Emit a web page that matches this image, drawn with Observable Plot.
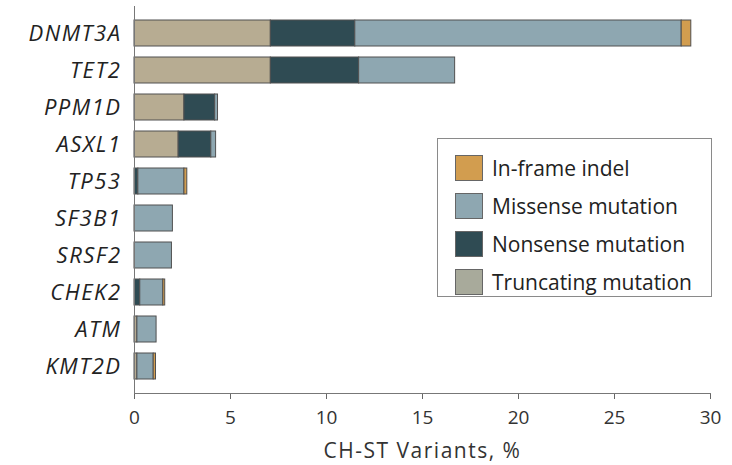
<!DOCTYPE html>
<html>
<head>
<meta charset="utf-8">
<script src="https://cdn.jsdelivr.net/npm/d3@7"></script>
<script src="https://cdn.jsdelivr.net/npm/@observablehq/plot@0.6"></script>
<style>
  html, body { margin: 0; padding: 0; background: #fff; }
  #wrap { position: relative; width: 732px; height: 465px; font-family: "Open Sans", sans-serif; }
  #legend { position: absolute; left: 437px; top: 138px; width: 275px; height: 159px; border: 1px solid #8a8a8a; box-sizing: border-box; background: #fff; }
  .row { position: absolute; left: 17px; height: 28px; display: flex; align-items: center; font-size: 21px; color: #222; white-space: nowrap; }
  .sw { width: 28px; height: 26px; box-sizing: border-box; border: 1px solid #666; margin-right: 9px; }
  .gene text { letter-spacing: 1.5px; }
</style>
</head>
<body>
<div id="wrap"></div>
<script>
const genes = ["DNMT3A", "TET2", "PPM1D", "ASXL1", "TP53", "SF3B1", "SRSF2", "CHEK2", "ATM", "KMT2D"];
const truncating = [7.1, 7.1, 2.6, 2.3, 0, 0, 0, 0, 0.15, 0.15];
const nonsense   = [4.4, 4.6, 1.6, 1.7, 0.2, 0, 0, 0.3, 0, 0];
const missense   = [17.0, 5.0, 0.15, 0.25, 2.4, 2.0, 1.95, 1.2, 1.0, 0.85];
const indel      = [0.5, 0, 0, 0, 0.15, 0, 0, 0.1, 0, 0.12];
const types = ["Truncating mutation", "Nonsense mutation", "Missense mutation", "In-frame indel"];
const colors = ["#b7ac92", "#2f4b53", "#8ea7b1", "#d29d4f"];
const legendOrder = ["In-frame indel", "Missense mutation", "Nonsense mutation", "Truncating mutation"];
const legendColors = ["#d29d4f", "#8ea7b1", "#2f4b53", "#a8aa9b"];
const xTicks = [0, 5, 10, 15, 20, 25, 30];

const series = [truncating, nonsense, missense, indel];
const rows = [];
genes.forEach((g, i) => {
  types.forEach((t, k) => {
    if (series[k][i] > 0) rows.push({gene: g, type: t, value: series[k][i], k});
  });
});

const chart = Plot.plot({
  width: 732,
  height: 465,
  marginLeft: 134,
  marginRight: 22,
  marginTop: 6,
  marginBottom: 72,
  style: {fontFamily: "'Open Sans', sans-serif", fontSize: "19px", color: "#222", background: "#fff"},
  x: {domain: [0, 30], ticks: xTicks, label: null},
  y: {domain: genes, padding: 0.29, label: null},
  color: {domain: types, range: colors},
  marks: [
    Plot.barX(rows, Plot.stackX({x: "value", y: "gene", fill: "type", order: "k", stroke: "#505050", strokeWidth: 1})),
    Plot.axisX({ticks: xTicks, tickSize: 6, tickPadding: 11, fontSize: 19, stroke: "#666", fill: "#333", label: null}),
    Plot.axisY({tickSize: 0, tickPadding: 13, fontSize: 22, fontStyle: "italic", fill: "#222", label: null, className: "gene"}),
    Plot.text(["CH-ST Variants, %"], {frameAnchor: "bottom", dy: 64, fontSize: 21, fill: "#333", text: d => d, className: "gene"}),
    Plot.frame({anchor: "left", stroke: "#777"}),
    Plot.frame({anchor: "bottom", stroke: "#777"})
  ]
});

const wrap = document.getElementById("wrap");
wrap.appendChild(chart);
const legend = document.createElement("div");
legend.id = "legend";
legendOrder.forEach((t, i) => {
  const r = document.createElement("div");
  r.className = "row";
  r.style.top = (15 + i * 38) + "px";
  r.innerHTML = `<span class="sw" style="background:${legendColors[i]}"></span><span>${t}</span>`;
  legend.appendChild(r);
});
wrap.appendChild(legend);
</script>
</body>
</html>
